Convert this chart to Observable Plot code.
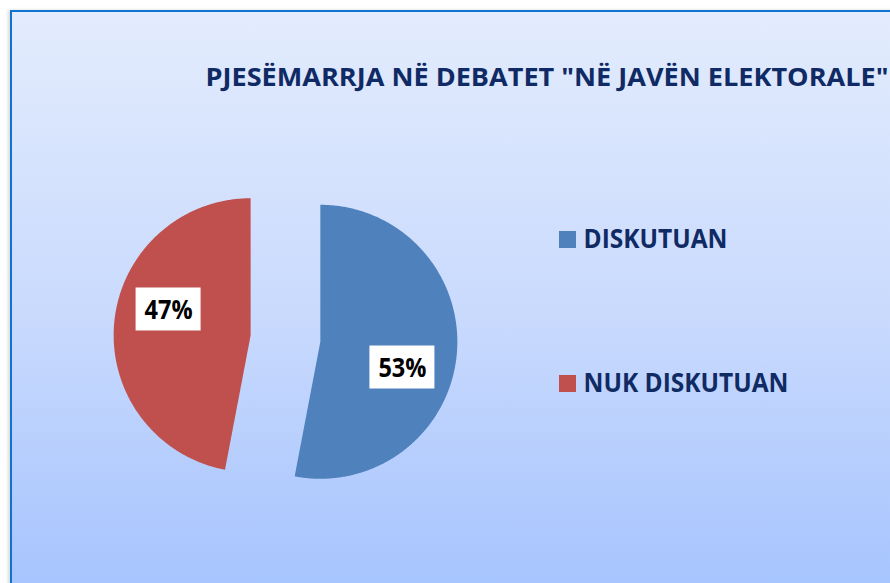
<!DOCTYPE html>
<html><head><meta charset="utf-8">
<script src="https://cdn.jsdelivr.net/npm/d3@7"></script>
<script src="https://cdn.jsdelivr.net/npm/@observablehq/plot@0.6"></script>
<style>
html,body{margin:0;padding:0;background:#fff;overflow:hidden;width:890px;height:583px}
#frame{position:absolute;left:10px;top:10px;width:900px;height:600px;border-top:2px solid #0f74cf;border-left:2px solid #0f74cf;background:linear-gradient(to bottom,#e3ecfd 0%,#c9dafd 50%,#a3c2fe 100%);box-shadow:-2px 0 3px rgba(0,0,0,0.15)}
#chart{position:absolute;left:0;top:0}
</style></head><body>
<div id="frame"></div><div id="chart"></div>
<script>
const title = 'PJESËMARRJA NË DEBATET "NË JAVËN ELEKTORALE"';
const categories = ["DISKUTUAN", "NUK DISKUTUAN"];
const values = [53, 47];
const colors = ["#4f81bd", "#c0504d"];
const labels = ["53%", "47%"];

// layout (pixel-like units of the identity scales)
const CX = 285, CY = 338, R = 137, EXPLODE = 35;
const LABEL_R = 86, LABEL_ROT = 12 * Math.PI / 180;

const arcs = d3.pie().sort(null).value(d => d)(values);
const slicePts = [];
const labelRows = [];
arcs.forEach((a, i) => {
  const mid = (a.startAngle + a.endAngle) / 2;
  const ox = CX + EXPLODE * Math.sin(mid), oy = CY - EXPLODE * Math.cos(mid);
  slicePts.push({cat: categories[i], x: ox, y: oy});
  const n = Math.ceil((a.endAngle - a.startAngle) / (Math.PI / 360));
  for (let k = 0; k <= n; k++) {
    const t = a.startAngle + (a.endAngle - a.startAngle) * k / n;
    slicePts.push({cat: categories[i], x: ox + R * Math.sin(t), y: oy - R * Math.cos(t)});
  }
  slicePts.push({cat: categories[i], x: ox, y: oy});
  const la = mid + LABEL_ROT;
  labelRows.push({label: labels[i], x: ox + LABEL_R * Math.sin(la), y: oy - LABEL_R * Math.cos(la)});
});

const legendRows = categories.map((c, i) => ({cat: c, x: 559, y: 231 + i * 144}));

const plot = Plot.plot({
  width: 890, height: 583,
  margin: 0,
  x: {domain: [0, 890], range: [0, 890], axis: null},
  y: {domain: [0, 583], range: [0, 583], axis: null},
  color: {domain: categories, range: colors},
  style: {background: "transparent", fontFamily: "'Open Sans', sans-serif", overflow: "visible"},
  marks: [
    Plot.line(slicePts, {x: "x", y: "y", z: "cat", fill: "cat", stroke: "none", curve: "linear"}),
    Plot.rect(labelRows, {x1: d => d.x - 32.5, x2: d => d.x + 32.5, y1: d => d.y - 21.5, y2: d => d.y + 21.5, fill: "white"}),
    Plot.text(labelRows, {x: "x", y: d => d.y + 9.5, text: "label", lineAnchor: "bottom", textAnchor: "middle", fill: "black", fontSize: 26, fontWeight: 700}),
    Plot.rect(legendRows, {x1: "x", x2: d => d.x + 17, y1: "y", y2: d => d.y + 17, fill: "cat"}),
    Plot.text(legendRows, {x: d => d.x + 24, y: d => d.y + 16, text: "cat", lineAnchor: "bottom", textAnchor: "start", fill: "#102a63", fontSize: 26, fontWeight: 700}),
    Plot.text([title], {x: 205, y: 85, text: d => d, lineAnchor: "bottom", textAnchor: "start", fill: "#0f2a64", fontSize: 25, fontWeight: 700})
  ]
});
document.getElementById("chart").appendChild(plot);

const widths = {};
widths[title] = 683;
widths[categories[0]] = 144;
widths[categories[1]] = 205;
widths[labels[0]] = 48;
widths[labels[1]] = 48;
plot.querySelectorAll("text").forEach(t => {
  const w = widths[t.textContent];
  if (w) { t.setAttribute("textLength", w); t.setAttribute("lengthAdjust", "spacingAndGlyphs"); }
});
</script>
</body></html>
